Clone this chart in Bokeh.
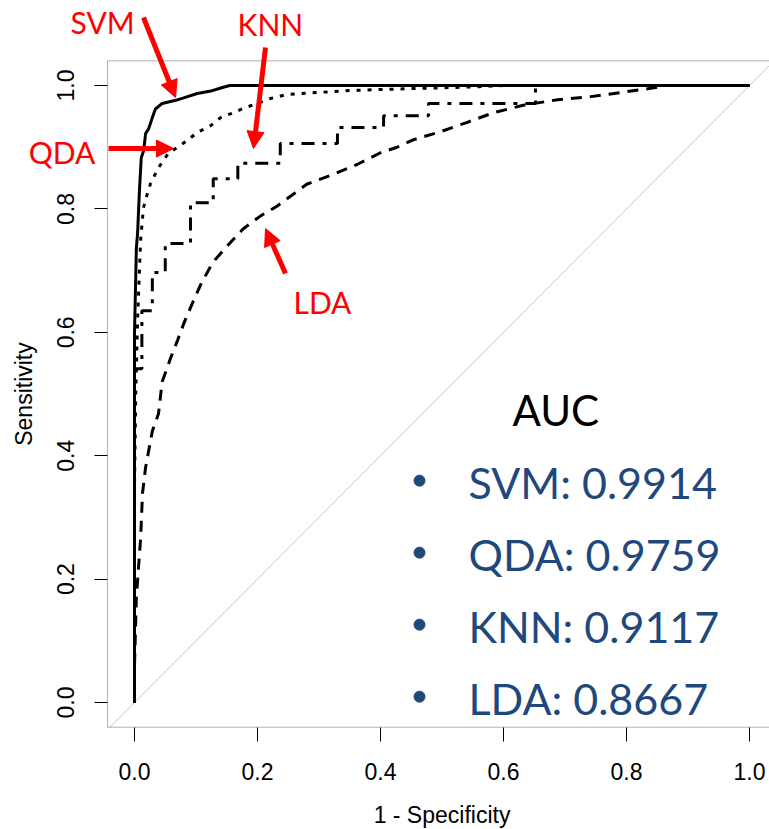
import math

from bokeh.plotting import figure
from bokeh.models import (Range1d, FixedTicker, PrintfTickFormatter, LinearAxis,
                          Label, Arrow, NormalHead, BoxAnnotation, ColumnDataSource)
from bokeh.core.properties import value
from bokeh.embed import file_html
from bokeh.resources import INLINE

# ROC curves: false positive rate (1 - specificity) vs sensitivity
svm_fpr = [0.0, 0.0, 0.002, 0.003, 0.005, 0.008, 0.011, 0.015, 0.018, 0.023, 0.029,
           0.034, 0.045, 0.067, 0.080, 0.102, 0.124, 0.140, 0.155, 1.0]
svm_tpr = [0.0, 0.600, 0.690, 0.737, 0.760, 0.830, 0.883, 0.895, 0.922, 0.930, 0.948,
           0.962, 0.971, 0.976, 0.980, 0.987, 0.991, 0.996, 1.0, 1.0]

qda_fpr = [0.0, 0.0, 0.002, 0.005, 0.008, 0.010, 0.0146, 0.021, 0.026, 0.039, 0.055,
           0.070, 0.086, 0.102, 0.124, 0.140, 0.161, 0.177, 0.200, 0.221, 0.246,
           0.270, 0.319, 0.351, 0.450, 0.560, 0.600, 1.0]
qda_tpr = [0.0, 0.350, 0.500, 0.620, 0.700, 0.750, 0.802, 0.825, 0.841, 0.867, 0.890,
           0.900, 0.911, 0.924, 0.935, 0.948, 0.956, 0.963, 0.971, 0.979, 0.985,
           0.987, 0.990, 0.992, 0.995, 0.998, 1.0, 1.0]

knn_fpr = [0.0, 0.0, 0.012, 0.012, 0.029, 0.029, 0.050, 0.050, 0.091, 0.091, 0.128,
           0.128, 0.168, 0.168, 0.237, 0.237, 0.330, 0.330, 0.405, 0.405, 0.478,
           0.478, 0.652, 0.652, 1.0]
knn_tpr = [0.0, 0.541, 0.541, 0.635, 0.635, 0.697, 0.697, 0.744, 0.744, 0.810, 0.810,
           0.849, 0.849, 0.874, 0.874, 0.906, 0.906, 0.932, 0.932, 0.951, 0.951,
           0.971, 0.971, 1.0, 1.0]

lda_fpr = [0.0, 0.0, 0.003, 0.010, 0.013, 0.018, 0.029, 0.039, 0.045, 0.059, 0.070,
           0.080, 0.094, 0.108, 0.127, 0.150, 0.176, 0.204, 0.231, 0.253, 0.280,
           0.323, 0.362, 0.400, 0.427, 0.453, 0.497, 0.540, 0.584, 0.632, 0.688,
           0.742, 0.800, 0.850, 0.860, 1.0]
lda_tpr = [0.0, 0.060, 0.170, 0.267, 0.339, 0.381, 0.440, 0.468, 0.520, 0.559, 0.587,
           0.614, 0.647, 0.678, 0.713, 0.739, 0.767, 0.788, 0.804, 0.820, 0.840,
           0.856, 0.872, 0.891, 0.900, 0.912, 0.925, 0.940, 0.956, 0.968, 0.977,
           0.982, 0.990, 0.997, 1.0, 1.0]

auc_models = ["SVM", "QDA", "KNN", "LDA"]
auc_values = [0.9914, 0.9759, 0.9117, 0.8667]

axis_ticks = [0.0, 0.2, 0.4, 0.6, 0.8, 1.0]

AXIS_FONT = "Liberation Sans"
NOTE_FONT = "Lato"
RED = "#FF0000"
BLUE = "#1F497D"

# plot box (R style, 4% padding); the canvas extends past it for the call-outs
BOX_X0, BOX_Y0, BOX_Y1 = -0.044, -0.04, 1.04

p = figure(width=769, height=829,
           x_range=Range1d(-0.2179, 1.0325), y_range=Range1d(-0.2058, 1.1378),
           output_backend="svg", toolbar_location=None,
           x_axis_location=None, y_axis_location=None,
           min_border=0, min_border_left=0, min_border_right=0,
           min_border_top=0, min_border_bottom=0)
p.xgrid.visible = False
p.ygrid.visible = False
p.outline_line_color = None
p.background_fill_color = "white"
p.border_fill_color = "white"

xaxis = LinearAxis(fixed_location=BOX_Y0)
yaxis = LinearAxis(fixed_location=BOX_X0)
p.add_layout(xaxis, "below")
p.add_layout(yaxis, "left")

for ax in (xaxis, yaxis):
    ax.ticker = FixedTicker(ticks=axis_ticks, minor_ticks=[])
    ax.formatter = PrintfTickFormatter(format="%.1f")
    ax.axis_line_color = None
    ax.major_tick_in = 0
    ax.major_tick_line_color = "black"
    ax.minor_tick_in = 0
    ax.minor_tick_out = 0
    ax.major_label_text_font = AXIS_FONT
    ax.major_label_text_font_size = "23px"
    ax.major_label_text_color = "black"

xaxis.major_tick_out = 14
xaxis.major_label_standoff = 22
yaxis.major_tick_out = 13
yaxis.major_label_orientation = "vertical"
yaxis.major_label_standoff = 20

# axis titles
p.text(x=[0.5], y=[-0.1831], text=["1 - Specificity"], text_font=value(AXIS_FONT),
       text_font_size="23px", text_color="black", text_align="center",
       text_baseline="middle")
p.text(x=[-0.180], y=[0.5], text=["Sensitivity"], text_font=value(AXIS_FONT),
       text_font_size="23px", text_color="black", text_align="center",
       text_baseline="middle", angle=math.pi / 2)

# box, open on the right where the canvas ends
p.add_layout(BoxAnnotation(left=BOX_X0, right=1.2, bottom=BOX_Y0, top=BOX_Y1,
                           fill_alpha=0, line_color="black", line_width=1))

# chance diagonal across the box
d0, d1 = BOX_Y0, 1.0325
p.line([d0, d1], [d0, d1], line_color="#C8C8C8", line_width=1)

p.line(lda_fpr, lda_tpr, line_color="black", line_width=3, line_dash="11 8")
p.line(knn_fpr, knn_tpr, line_color="black", line_width=3, line_dash="13 8 4 8")
p.line(qda_fpr, qda_tpr, line_color="black", line_width=3, line_dash="4 7")
p.line(svm_fpr, svm_tpr, line_color="black", line_width=3)

# AUC summary
p.add_layout(Label(x=0.6146, y=0.4733, text="AUC", text_font=NOTE_FONT,
                   text_font_size="42px", text_color="black",
                   text_baseline="middle", text_align="left"))

row_step = 0.1167
row_mid = [0.3566 - i * row_step for i in range(len(auc_models))]
auc_src = ColumnDataSource(dict(
    x=[0.543] * len(auc_models),
    y=row_mid,
    by=[m + 0.003 for m in row_mid],
    bx=[0.4634] * len(auc_models),
    text=[f"{m}: {v:.4f}" for m, v in zip(auc_models, auc_values)],
))
p.scatter(x="bx", y="by", source=auc_src, size=11, marker="circle",
          fill_color=BLUE, line_color=BLUE)
p.text(x="x", y="y", text="text", source=auc_src, text_font=value(NOTE_FONT),
       text_font_size="43px", text_color=BLUE, text_baseline="middle",
       text_align="left")

# curve call-outs
callouts = [
    ("SVM", -0.104, 1.1037, (0.0146, 1.1102), (0.0667, 0.9805)),
    ("KNN", 0.1675, 1.1005, (0.213, 1.0616), (0.1935, 0.8979)),
    ("QDA", -0.172, 0.8922, (-0.0423, 0.8979), (0.0634, 0.8979)),
    ("LDA", 0.2585, 0.6499, (0.2455, 0.6953), (0.213, 0.7682)),
]
for name, lx, ly, (sx, sy), (ex, ey) in callouts:
    p.add_layout(Label(x=lx, y=ly, text=name, text_font=NOTE_FONT,
                       text_font_size="30px", text_color=RED,
                       text_baseline="middle", text_align="left"))
    p.add_layout(Arrow(x_start=sx, y_start=sy, x_end=ex, y_end=ey,
                       line_color=RED, line_width=5,
                       end=NormalHead(size=17, fill_color=RED, line_color=RED,
                                      line_width=1)))

open("out.html", "w").write(file_html(p, INLINE))
